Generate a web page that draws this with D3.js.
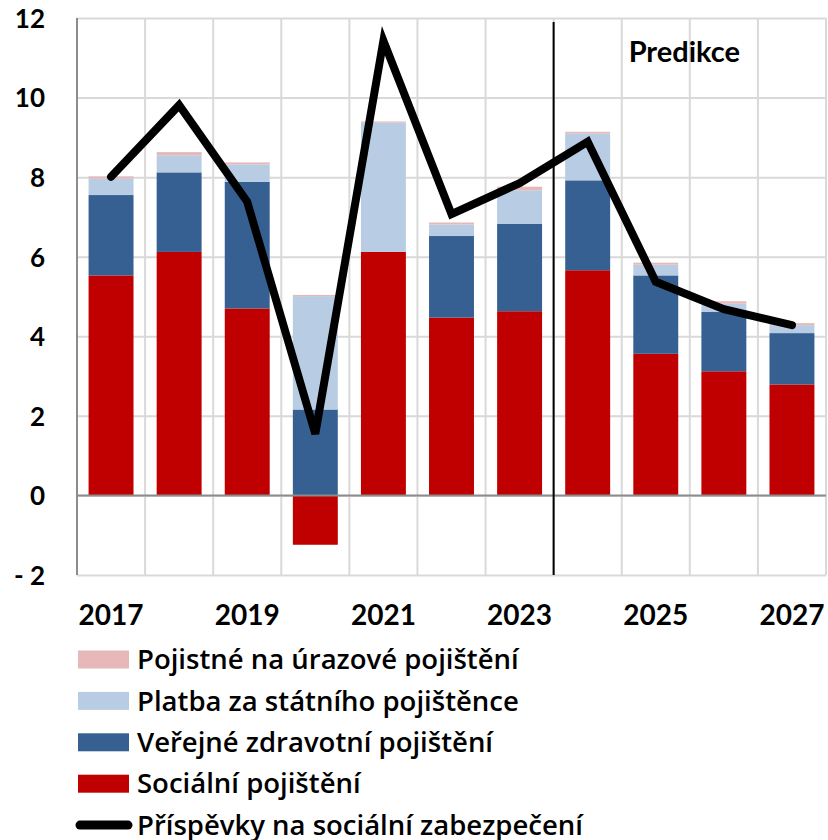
<!DOCTYPE html>
<html>
<head>
<meta charset="utf-8">
<script src="https://cdn.jsdelivr.net/npm/d3@7"></script>
<style>
  body { margin: 0; background: #fff; }
  svg text { font-family: Lato, 'Open Sans', sans-serif; font-weight: bold; fill: #000; }
  .y-axis .tick text { font-size: 26px; }
  .x-axis .tick text { font-size: 28px; }
  .legend text { font-family: 'Open Sans', sans-serif; font-weight: 600; font-size: 27.5px; }
</style>
</head>
<body>
<svg width="828" height="840"></svg>
<script>
const years = [2017, 2018, 2019, 2020, 2021, 2022, 2023, 2024, 2025, 2026, 2027];
const socialIns = [5.53, 6.12, 4.70, -1.24, 6.12, 4.47, 4.63, 5.66, 3.56, 3.12, 2.79];
const healthIns = [2.02, 2.00, 3.18, 2.16, 0.00, 2.05, 2.20, 2.26, 1.97, 1.49, 1.29];
const statePay = [0.42, 0.43, 0.44, 2.85, 3.25, 0.29, 0.84, 1.18, 0.27, 0.21, 0.20];
const accidentIns = [0.05, 0.08, 0.05, 0.03, 0.03, 0.05, 0.09, 0.04, 0.05, 0.06, 0.05];
const contributions = [8.01, 9.81, 7.38, 1.55, 11.43, 7.07, 7.85, 8.89, 5.37, 4.68, 4.28];
const yTicks = [-2, 0, 2, 4, 6, 8, 10, 12];
const xTickYears = [2017, 2019, 2021, 2023, 2025, 2027];
const predictionStart = 2024;

const seriesNames = ['Sociální pojištění', 'Veřejné zdravotní pojištění',
  'Platba za státního pojištěnce', 'Pojistné na úrazové pojištění'];
const seriesColors = ['#c00000', '#376092', '#b8cce4', '#e6b9b8'];
const lineName = 'Příspěvky na sociální zabezpečení';

const svg = d3.select('svg');
const margin = { top: 18, right: 2, bottom: 265, left: 77 };
const width = +svg.attr('width');
const height = +svg.attr('height');
const innerWidth = width - margin.left - margin.right;
const innerHeight = height - margin.top - margin.bottom;

const g = svg.append('g')
  .attr('transform', `translate(${margin.left},${margin.top})`);

const xScale = d3.scaleBand()
  .domain(years)
  .range([0, innerWidth])
  .paddingInner(0.34)
  .paddingOuter(0.17);

const yScale = d3.scaleLinear()
  .domain([-2, 12])
  .range([innerHeight, 0]);

// gridlines
const yAxis = d3.axisLeft(yScale)
  .tickValues(yTicks)
  .tickSize(-innerWidth)
  .tickPadding(32)
  .tickFormat(d => d < 0 ? '- ' + Math.abs(d) : d);

const yAxisG = g.append('g').attr('class', 'y-axis').call(yAxis);
yAxisG.select('.domain').remove();
yAxisG.selectAll('.tick line').attr('stroke', '#d9d9d9').attr('stroke-width', 2);
yAxisG.selectAll('.tick text').attr('dy', '0.36em');

const step = xScale.step();
g.append('g')
  .selectAll('line')
  .data(d3.range(years.length + 1))
  .join('line')
    .attr('x1', i => i * step)
    .attr('x2', i => i * step)
    .attr('y1', 0)
    .attr('y2', innerHeight)
    .attr('stroke', '#d9d9d9')
    .attr('stroke-width', 2);

// stacked bars, negatives stacked downward
const rows = years.map((year, i) => ({
  year,
  s0: socialIns[i], s1: healthIns[i], s2: statePay[i], s3: accidentIns[i]
}));
const stack = d3.stack()
  .keys(['s0', 's1', 's2', 's3'])
  .offset(d3.stackOffsetDiverging);
const layers = stack(rows);

g.append('g')
  .selectAll('g')
  .data(layers)
  .join('g')
    .attr('fill', (d, i) => seriesColors[i])
  .selectAll('rect')
  .data(d => d)
  .join('rect')
    .attr('x', d => xScale(d.data.year))
    .attr('width', xScale.bandwidth())
    .attr('y', d => yScale(d[1]))
    .attr('height', d => yScale(d[0]) - yScale(d[1]));

// axis lines
g.append('line')
  .attr('x1', 0).attr('x2', innerWidth)
  .attr('y1', yScale(0)).attr('y2', yScale(0))
  .attr('stroke', '#8c8c8c').attr('stroke-width', 2);
g.append('line')
  .attr('x1', 0).attr('x2', 0)
  .attr('y1', 0).attr('y2', innerHeight)
  .attr('stroke', '#8c8c8c').attr('stroke-width', 2);

// x axis labels
const xAxis = d3.axisBottom(xScale)
  .tickValues(xTickYears)
  .tickSize(0)
  .tickPadding(0);
const xAxisG = g.append('g')
  .attr('class', 'x-axis')
  .attr('transform', `translate(0,${innerHeight})`)
  .call(xAxis);
xAxisG.select('.domain').remove();
xAxisG.selectAll('.tick text').attr('y', 50).attr('dy', 0);

// prediction divider
const predX = xScale(predictionStart) - xScale.step() * xScale.paddingInner() / 2;
g.append('line')
  .attr('x1', predX).attr('x2', predX)
  .attr('y1', 4).attr('y2', innerHeight)
  .attr('stroke', '#000').attr('stroke-width', 2);
g.append('text')
  .attr('x', predX + 75)
  .attr('y', 44)
  .style('font-size', '29px')
  .text('Predikce');

// contributions line
const line = d3.line()
  .x((d, i) => xScale(years[i]) + xScale.bandwidth() / 2)
  .y(d => yScale(d));
g.append('path')
  .attr('d', line(contributions))
  .attr('fill', 'none')
  .attr('stroke', '#000')
  .attr('stroke-width', 8)
  .attr('stroke-linejoin', 'miter')
  .attr('stroke-linecap', 'round');

// legend
const legendItems = [3, 2, 1, 0].map(i => ({ name: seriesNames[i], color: seriesColors[i] }));
const legend = svg.append('g').attr('class', 'legend')
  .attr('transform', 'translate(78,659.5)');
const rowGap = 41.4;
legendItems.forEach((d, i) => {
  const row = legend.append('g').attr('transform', `translate(0,${i * rowGap})`);
  row.append('rect')
    .attr('x', 0).attr('y', -9)
    .attr('width', 51).attr('height', 18)
    .attr('fill', d.color);
  row.append('text')
    .attr('x', 59).attr('y', 0).attr('dy', '0.35em')
    .text(d.name);
});
const lineRow = legend.append('g').attr('transform', `translate(0,${4 * rowGap})`);
lineRow.append('line')
  .attr('x1', 2).attr('x2', 50)
  .attr('stroke', '#000').attr('stroke-width', 9)
  .attr('stroke-linecap', 'round');
lineRow.append('text')
  .attr('x', 59).attr('y', 0).attr('dy', '0.35em')
  .text(lineName);
</script>
</body>
</html>
